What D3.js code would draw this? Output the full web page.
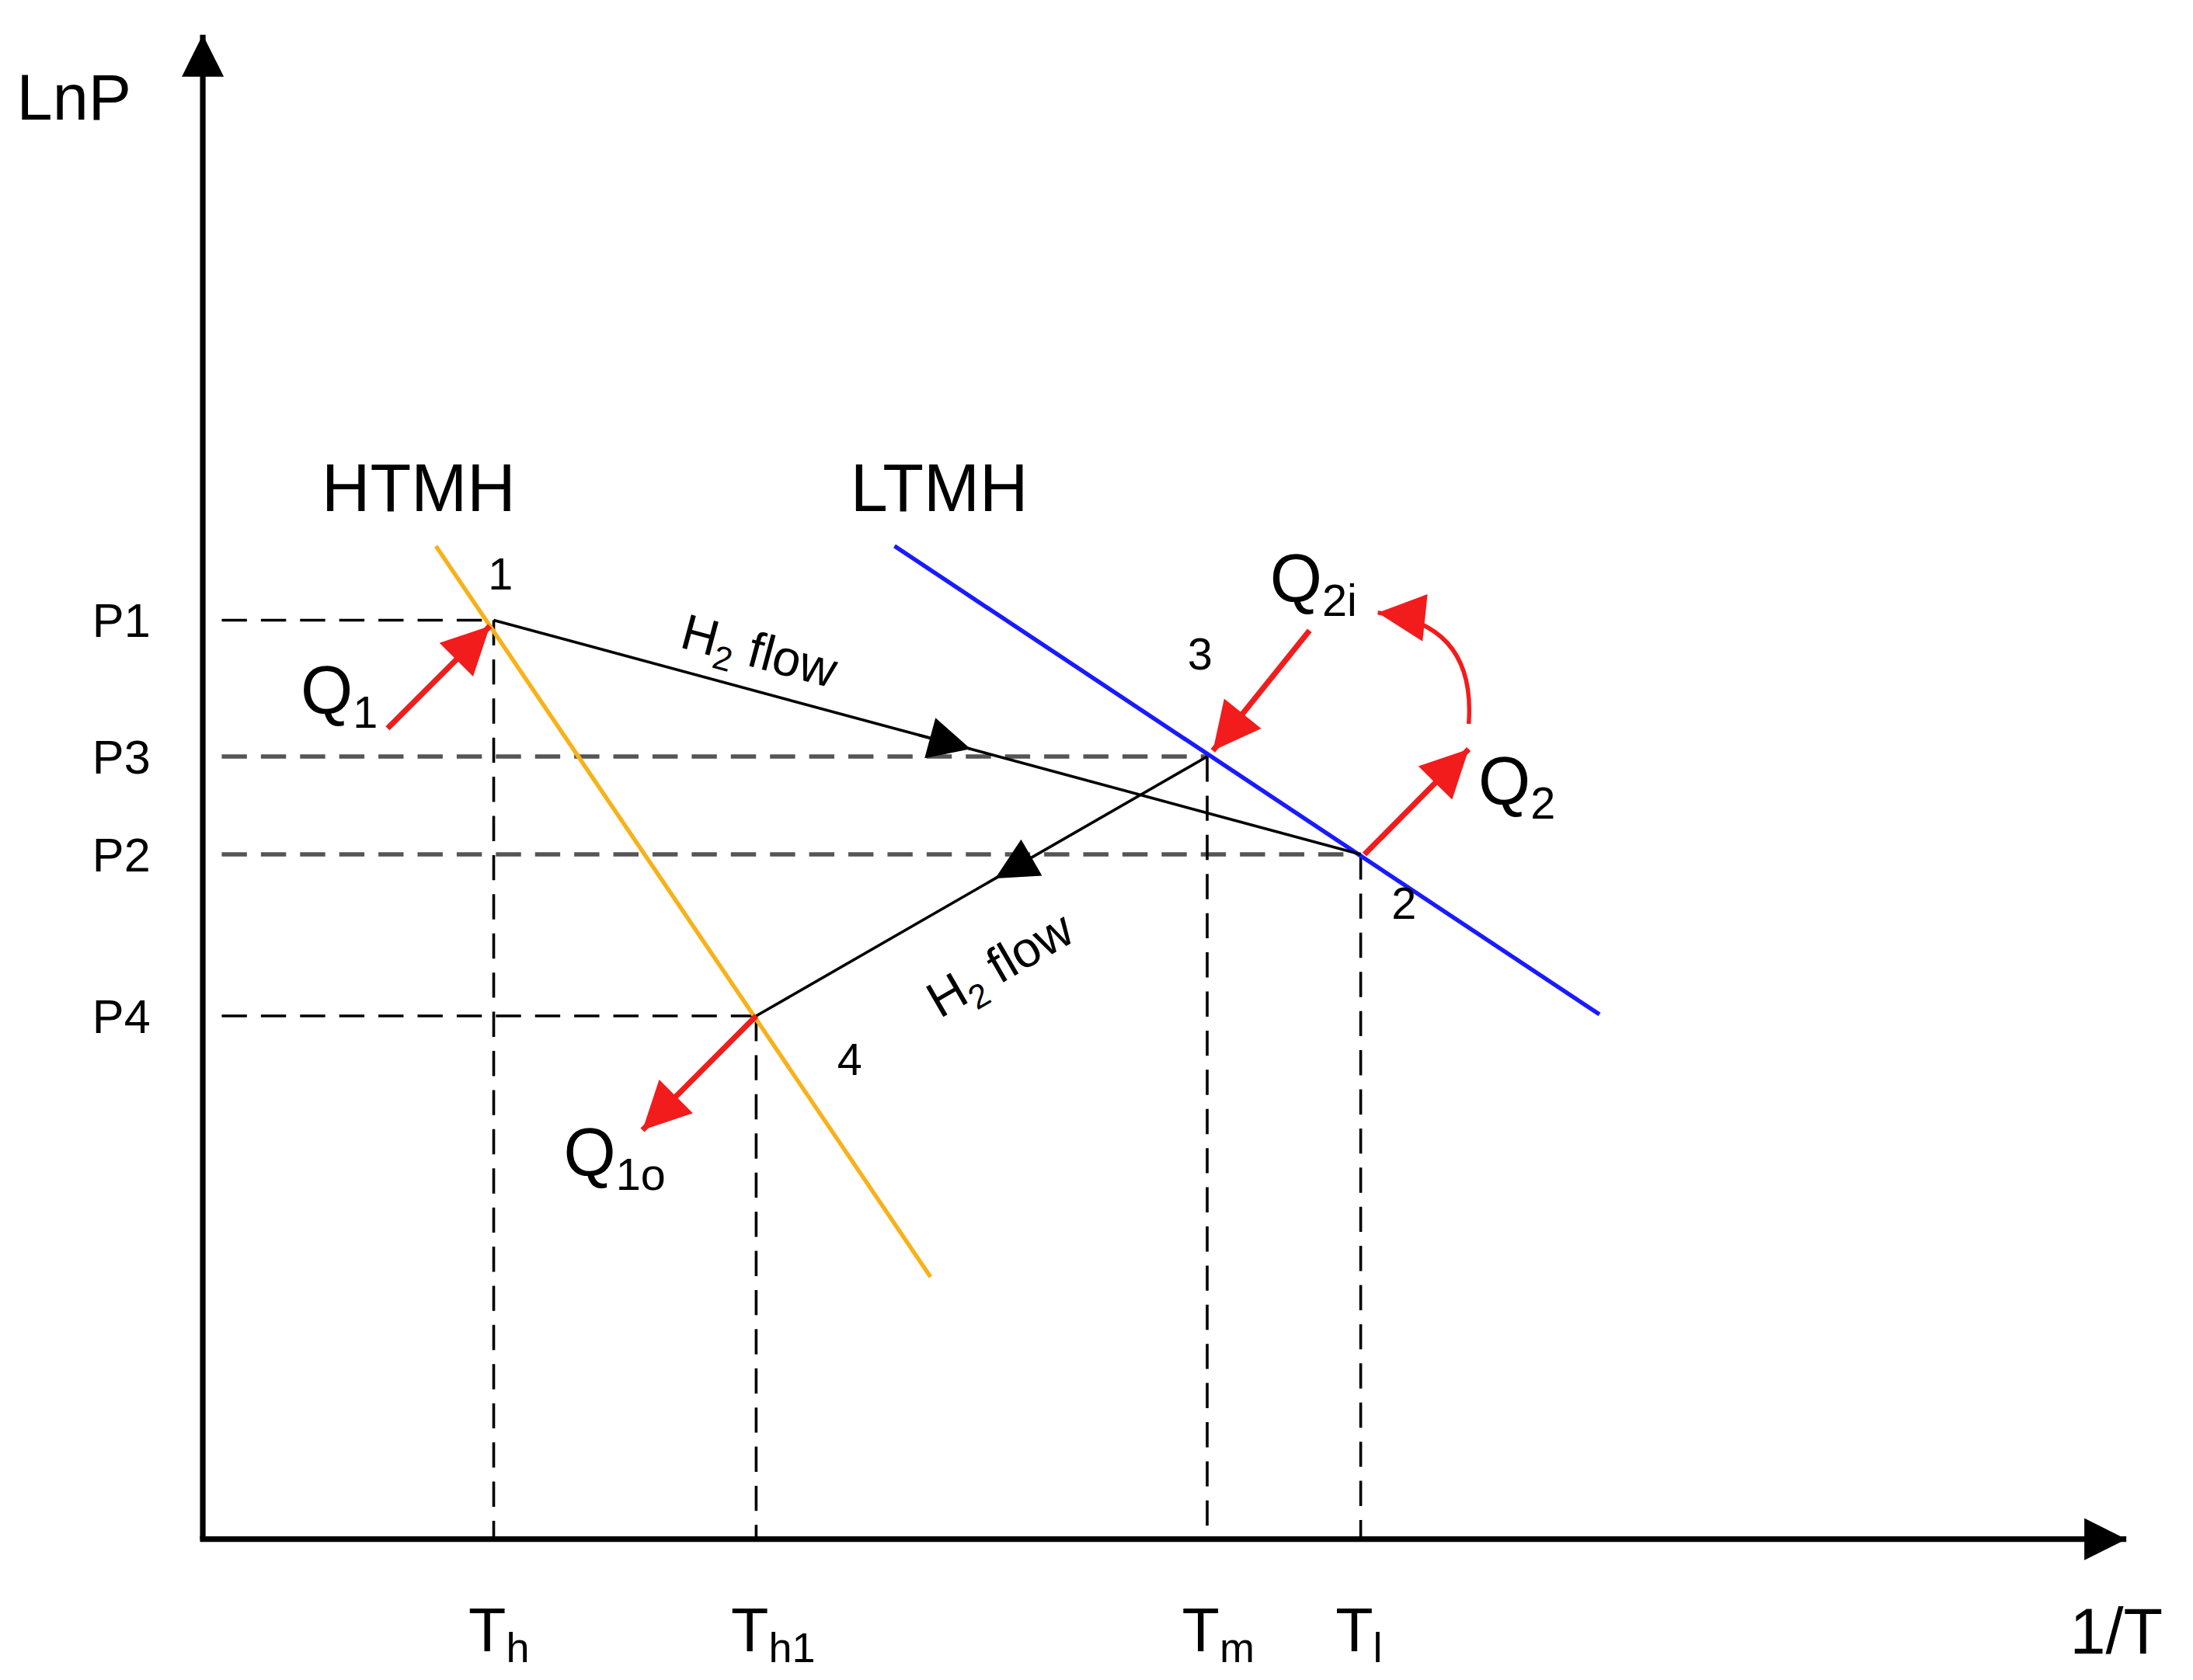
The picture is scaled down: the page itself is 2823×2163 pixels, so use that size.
<!DOCTYPE html>
<html>
<head>
<meta charset="utf-8">
<script src="https://cdn.jsdelivr.net/npm/d3@7"></script>
<style>
  body { margin: 0; background: #fff; }
  text { font-family: "Liberation Sans", Arial, sans-serif; }
</style>
</head>
<body>
<div id="chart"></div>
<script>
// diagram coordinates, 0..100 on both axes
const tempNames = ["h", "h1", "m", "l"];
const tempValues = [15.35, 29.2, 53.0, 61.1];
const pressNames = ["P1", "P3", "P2", "P4"];
const pressValues = [62.0, 52.8, 46.2, 35.3];
const states = [
  { id: "1", x: 15.35, y: 62.0, dx: -4, dy: -22 },
  { id: "2", x: 61.1, y: 46.2, dx: 22, dy: 46 },
  { id: "3", x: 53.0, y: 52.8, dx: -14, dy: -62 },
  { id: "4", x: 29.2, y: 35.3, dx: 58, dy: 42 }
];
const htmhLine = [[12.3, 67.0], [38.4, 17.7]];
const ltmhLine = [[36.5, 67.0], [73.7, 35.4]];

let W = 1568, H = 1200;
let x = d3.scaleLinear().domain([0, 100]).range([145, 1500]);
let y = d3.scaleLinear().domain([0, 100]).range([1100, 40]);

let svg = d3.select("#chart").append("svg")
  .attr("width", 2823).attr("height", 2163)
  .attr("viewBox", "0 0 " + W + " " + H);

let defs = svg.append("defs");
function marker(id, color, w, h) {
  defs.append("marker").attr("id", id)
    .attr("viewBox", "0 0 10 10").attr("refX", 10).attr("refY", 5)
    .attr("markerWidth", w).attr("markerHeight", h)
    .attr("markerUnits", "userSpaceOnUse").attr("orient", "auto")
    .append("path").attr("d", "M0,0 L10,5 L0,10 Z").attr("fill", color);
}
marker("axisHead", "#000", 50, 30);
marker("redHead", "#f21c1c", 38, 34);
marker("blackHead", "#000", 46, 30);

// axes
svg.append("line").attr("x1", x(0)).attr("y1", y(0)).attr("x2", x(0)).attr("y2", y(101.5))
  .attr("stroke", "#000").attr("stroke-width", 4).attr("marker-end", "url(#axisHead)");
svg.append("line").attr("x1", x(0) - 2).attr("y1", y(0)).attr("x2", x(101.5)).attr("y2", y(0))
  .attr("stroke", "#000").attr("stroke-width", 4).attr("marker-end", "url(#axisHead)");
svg.append("text").attr("x", 12).attr("y", 85).attr("font-size", 46).text("LnP");
svg.append("text").attr("x", 1480).attr("y", 1182).attr("font-size", 46).text("1/T");

// dashed guides
const grey = ["#000", "#555", "#555", "#000"];
pressValues.forEach((p, i) => {
  let xEnd = [tempValues[0], tempValues[2], tempValues[3], tempValues[1]][i];
  svg.append("line").attr("x1", x(1)).attr("x2", x(xEnd)).attr("y1", y(p)).attr("y2", y(p))
    .attr("stroke", grey[i]).attr("stroke-width", i === 1 || i === 2 ? 3 : 2)
    .attr("stroke-dasharray", "18,10");
  svg.append("text").attr("x", 66).attr("y", y(p) + 12).attr("font-size", 34).text(pressNames[i]);
});
const tempTop = [62.0, 35.3, 52.8, 46.2];
tempValues.forEach((t, i) => {
  svg.append("line").attr("x1", x(t)).attr("x2", x(t)).attr("y1", y(tempTop[i])).attr("y2", y(0))
    .attr("stroke", "#000").attr("stroke-width", 2).attr("stroke-dasharray", "18,10");
  let lab = svg.append("text").attr("x", x(t) - 18).attr("y", 1180).attr("font-size", 44);
  lab.append("tspan").text("T");
  lab.append("tspan").attr("font-size", 30).attr("dy", 8).text(tempNames[i]);
});

// isochore lines
let line = d3.line().x(d => x(d[0])).y(d => y(d[1]));
svg.append("path").attr("d", line(htmhLine)).attr("stroke", "#f7b21b").attr("stroke-width", 3).attr("fill", "none");
svg.append("path").attr("d", line(ltmhLine)).attr("stroke", "#1a1aff").attr("stroke-width", 3).attr("fill", "none");
svg.append("text").attr("x", 230).attr("y", 365).attr("font-size", 48).text("HTMH");
svg.append("text").attr("x", 608).attr("y", 365).attr("font-size", 48).text("LTMH");

// H2 flow lines
let s = {}; states.forEach(d => s[d.id] = d);
function flow(a, b, frac) {
  svg.append("line").attr("x1", x(a.x)).attr("y1", y(a.y)).attr("x2", x(b.x)).attr("y2", y(b.y))
    .attr("stroke", "#000").attr("stroke-width", 2);
  let mx = a.x + (b.x - a.x) * frac, my = a.y + (b.y - a.y) * frac;
  let ux = a.x + (b.x - a.x) * (frac - 0.06), uy = a.y + (b.y - a.y) * (frac - 0.06);
  svg.append("line").attr("x1", x(ux)).attr("y1", y(uy)).attr("x2", x(mx)).attr("y2", y(my))
    .attr("stroke", "#000").attr("stroke-width", 2).attr("marker-end", "url(#blackHead)");
}
flow(s["1"], s["2"], 0.55);
flow(s["3"], s["4"], 0.47);

function flowLabel(px, py, ang) {
  let t = svg.append("text").attr("transform", "translate(" + px + "," + py + ") rotate(" + ang + ")")
    .attr("font-size", 36);
  t.append("tspan").text("H");
  t.append("tspan").attr("font-size", 24).attr("dy", 8).text("2");
  t.append("tspan").attr("dy", -8).text(" flow");
}
flowLabel(485, 462, 15);
flowLabel(672, 728, -30);

states.forEach(d => {
  svg.append("text").attr("x", x(d.x) + d.dx).attr("y", y(d.y) + d.dy).attr("font-size", 32).text(d.id);
});

// heat arrows
function heat(x1, y1, x2, y2) {
  svg.append("line").attr("x1", x(x1)).attr("y1", y(y1)).attr("x2", x(x2)).attr("y2", y(y2))
    .attr("stroke", "#f21c1c").attr("stroke-width", 4).attr("marker-end", "url(#redHead)");
}
heat(9.75, 54.7, 15.15, 61.6);
heat(29.2, 35.3, 23.2, 27.6);
heat(58.4, 61.3, 53.3, 53.2);
heat(61.3, 46.2, 66.8, 53.3);
svg.append("path")
  .attr("d", "M" + x(66.8) + "," + y(55.0) + " Q" + x(67.2) + "," + y(61.8) + " " + x(62.0) + "," + y(62.5))
  .attr("stroke", "#f21c1c").attr("stroke-width", 3).attr("fill", "none").attr("marker-end", "url(#redHead)");

function qLabel(px, py, sub) {
  let t = svg.append("text").attr("x", px).attr("y", py).attr("font-size", 48);
  t.append("tspan").text("Q");
  t.append("tspan").attr("font-size", 32).attr("dy", 10).text(sub);
}
qLabel(215, 510, "1");
qLabel(403, 840, "1o");
qLabel(908, 430, "2i");
qLabel(1057, 575, "2");
</script>
</body>
</html>
